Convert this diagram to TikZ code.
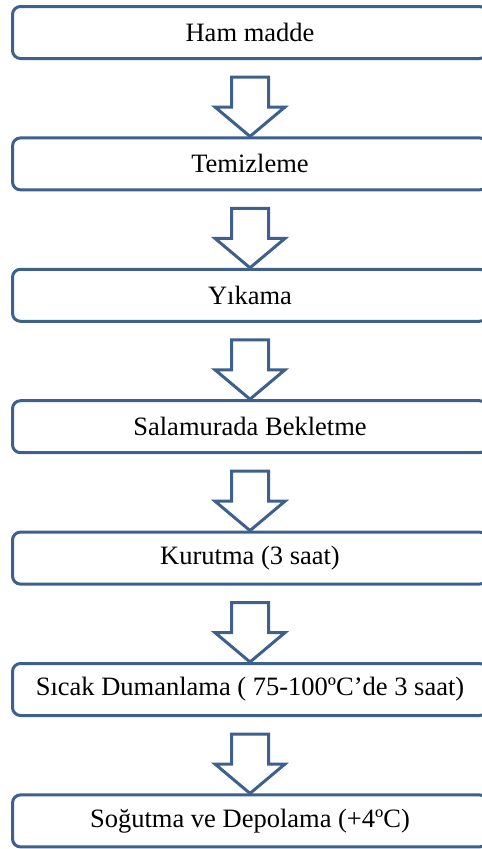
\documentclass[tikz,border=0pt]{standalone}
\usepackage{fontspec}
\setmainfont{Liberation Serif}
\usetikzlibrary{calc,positioning}

\definecolor{stepblue}{RGB}{62,96,140}

% one block arrow from the bottom of a box to the top of the next box
\newcommand{\flowarrow}[2]{%
  \draw[flowline] ($(#1.south)+(-18.5,17)$) -- ($(#1.south)+(18.5,17)$)
    -- ($(#1.south)+(18.5,47)$) -- ($(#1.south)+(35,47)$) -- (#2.north)
    -- ($(#1.south)+(-35,47)$) -- ($(#1.south)+(-18.5,47)$) -- cycle;}

\begin{document}
\begin{tikzpicture}[x=1pt, y=-1pt,
    font=\fontsize{26.5}{31}\selectfont,
    stepbox/.style={draw=stepblue, line width=3pt, rounded corners=8pt, fill=white,
      minimum width=475pt, minimum height=52pt, inner sep=0pt},
    flowline/.style={draw=stepblue, line width=3pt, line join=miter, fill=white},
    node distance=76.4pt]
    \useasboundingbox (0,0) rectangle (482,849);

    % Kutular
    \node[stepbox] (ham) at (250,32.5) {Ham madde};
    \node[stepbox, below=of ham] (temiz) {Temizleme};
    \node[stepbox, below=of temiz] (yika) {Yıkama};
    \node[stepbox, below=of yika] (salamura) {Salamurada Bekletme};
    \node[stepbox, below=of salamura] (kurut) {Kurutma (3 saat)};
    \node[stepbox, below=of kurut] (duman) {Sıcak Dumanlama ( 75-100ºC’de 3 saat)};
    \node[stepbox, below=of duman] (depo) {Soğutma ve Depolama (+4ºC)};

    % Oklar
    \flowarrow{ham}{temiz}
    \flowarrow{temiz}{yika}
    \flowarrow{yika}{salamura}
    \flowarrow{salamura}{kurut}
    \flowarrow{kurut}{duman}
    \flowarrow{duman}{depo}
\end{tikzpicture}
\end{document}
